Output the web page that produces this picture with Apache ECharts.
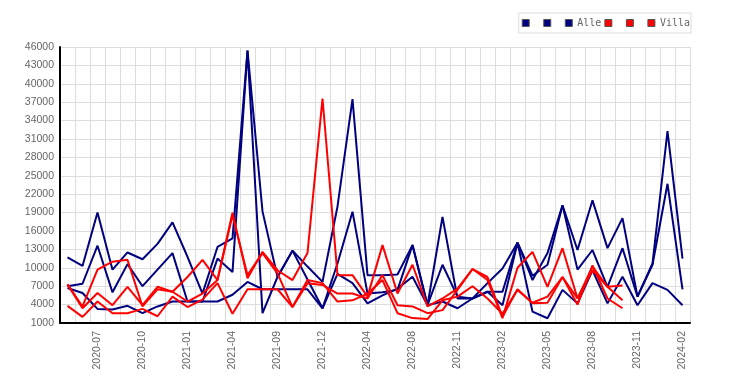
<!DOCTYPE html>
<html>
<head>
<meta charset="utf-8">
<script src="https://cdn.jsdelivr.net/npm/echarts@6/dist/echarts.min.js"></script>
<style>html,body{margin:0;padding:0;background:#fff;}#c{width:750px;height:385px;}</style>
</head>
<body>
<div id="c"></div>
<script>
var categories = ['2020-05','2020-06','2020-07','2020-08','2020-09','2020-10','2020-11','2020-12','2021-01','2021-02','2021-03','2021-04','2021-05','2021-07','2021-09','2021-10','2021-11','2021-12','2022-01','2022-03','2022-04','2022-05','2022-07','2022-08','2022-09','2022-10','2022-11','2022-12','2023-01','2023-02','2023-03','2023-04','2023-05','2023-06','2023-07','2023-08','2023-09','2023-10','2023-11','2023-12','2024-01','2024-02'];

var alle1 = [11700,10300,19000,9700,12500,11400,13900,17400,11800,5800,13400,14800,45400,19200,8500,12800,10200,7700,20000,37500,8800,8800,8900,13700,3900,18300,5000,5000,7500,9900,14100,8700,10500,20200,12900,21000,13200,18100,5300,10700,32300,11500];
var alle2 = [7000,7400,13600,6000,10600,7000,9700,12400,4500,4500,11500,9300,45400,2600,8500,12800,8100,3400,10700,19150,5800,6000,6400,13700,3900,10500,5300,5000,6100,6100,14100,8000,12400,20200,9700,12900,6900,13200,5300,10500,23700,6500];
var alle3 = [6700,5900,3300,3200,3800,2600,3700,4500,4500,4500,4500,5600,7700,6500,6500,6500,6500,3400,9000,7500,4200,5500,6600,8550,3900,4500,3400,5000,6100,3900,14100,2850,1770,6400,4200,9600,4200,8550,3900,7500,6400,3900];

var villa1 = [7300,3700,9700,11000,11300,3700,6500,6100,8500,11300,8000,19000,8300,12600,9600,8000,12400,37600,8800,8800,5300,13700,5800,10500,3700,5000,6600,9800,8000,1800,10000,12600,6900,13200,5000,10200,6900,4700];
var villa2 = [7300,3400,5900,3900,6900,3900,6900,6100,4500,5800,8000,18600,8800,12400,9100,3600,7500,7200,5800,5800,5000,8800,3900,3700,2600,3100,6400,9800,8500,2000,6500,4200,4300,8500,4000,10400,5000,3400];
var villa3 = [3800,2000,4500,2600,2600,3300,2100,5300,3600,4800,7500,2500,6500,6500,6500,3600,8000,7500,4500,4700,5800,8000,2600,1800,1650,4700,5300,7000,5000,2500,6400,4300,5300,8500,5000,9600,6900,7100];

var yTicks = {min: 1000, max: 46000, step: 3000};

var NAVY = '#000080', RED = '#ff0000';
function line(name, data, color) {
  return {name: name, type: 'line', data: data, symbol: 'none', smooth: false,
    lineStyle: {color: color, width: 2}, itemStyle: {color: color},
    emphasis: {disabled: true}, animation: false};
}

var chart = echarts.init(document.getElementById('c'), null, {renderer: 'canvas'});
chart.setOption({
  animation: false,
  backgroundColor: '#fff',
  grid: {left: 60, right: 60, top: 47, bottom: 62, containLabel: false},
  legend: {
    right: 59, top: 13, orient: 'horizontal',
    itemWidth: 7, itemHeight: 7, itemGap: 3,
    padding: [5, 1, 5, 3],
    borderColor: '#dddddd', borderWidth: 1,
    icon: 'rect',
    itemStyle: {borderColor: '#555', borderWidth: 1},
    textStyle: {fontFamily: 'DejaVu Sans Mono', fontSize: 10, color: '#666'},
    formatter: function (n) { return n.indexOf('_') >= 0 ? ' ' : n; },
    data: ['Alle_1','Alle_2','Alle','Villa_1','Villa_2','Villa']
  },
  xAxis: {
    type: 'category', data: categories, boundaryGap: true,
    axisLine: {lineStyle: {color: '#000', width: 2}},
    axisTick: {show: false},
    splitLine: {show: true, interval: 0, lineStyle: {color: '#dddddd', width: 1}},
    axisLabel: {rotate: 90, interval: function (i) { return i % 3 === 2; }, margin: 8,
      fontFamily: 'Liberation Sans', fontSize: 10.5, color: '#666'}
  },
  yAxis: {
    type: 'value', min: yTicks.min, max: yTicks.max, interval: yTicks.step,
    axisLine: {show: true, lineStyle: {color: '#000', width: 2}},
    axisTick: {show: false},
    splitLine: {show: true, lineStyle: {color: '#dddddd', width: 1}},
    axisLabel: {margin: 6, fontFamily: 'Liberation Sans', fontSize: 10.5, color: '#666',
      formatter: function (v) { return String(v); }}
  },
  series: [
    line('Alle_1', alle1, NAVY), line('Alle_2', alle2, NAVY), line('Alle', alle3, NAVY),
    line('Villa_1', villa1, RED), line('Villa_2', villa2, RED), line('Villa', villa3, RED)
  ]
});
</script>
</body>
</html>
